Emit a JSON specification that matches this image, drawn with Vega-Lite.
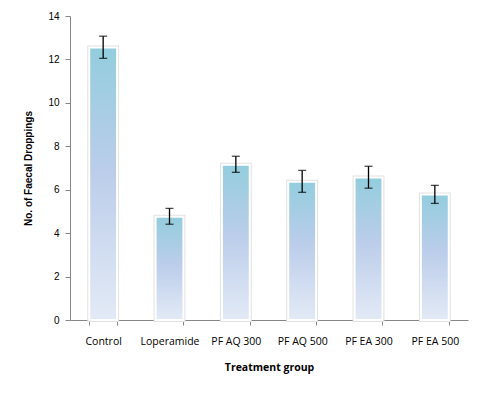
{
  "$schema": "https://vega.github.io/schema/vega-lite/v6.json",
  "width": 398,
  "height": 304,
  "autosize": {"type": "none"},
  "padding": {"left": 70, "top": 16, "right": 17, "bottom": 74},
  "background": "white",
  "config": {"view": {"stroke": null}},
  "data": {
    "values": [
      {"group": "Control", "mean": 12.55, "lo": 12.05, "hi": 13.07},
      {"group": "Loperamide", "mean": 4.75, "lo": 4.41, "hi": 5.14},
      {"group": "PF AQ 300", "mean": 7.15, "lo": 6.8, "hi": 7.54},
      {"group": "PF AQ 500", "mean": 6.37, "lo": 5.88, "hi": 6.89},
      {"group": "PF EA 300", "mean": 6.56, "lo": 6.07, "hi": 7.08},
      {"group": "PF EA 500", "mean": 5.78, "lo": 5.37, "hi": 6.2}
    ]
  },
  "encoding": {
    "x": {
      "field": "group",
      "type": "nominal",
      "sort": null,
      "scale": {"paddingInner": 0.58, "paddingOuter": 0.29},
      "axis": {
        "title": "Treatment group",
        "labelAngle": 0,
        "tickBand": "extent",
        "domainColor": "#868686",
        "tickColor": "#868686",
        "tickSize": 5,
        "labelPadding": 11,
        "labelFont": "Open Sans",
        "labelFontSize": 10.5,
        "labelColor": "#000000",
        "titleFont": "Open Sans",
        "titleFontSize": 10.5,
        "titleFontWeight": "bold",
        "titleColor": "#000000",
        "titlePadding": 16
      }
    }
  },
  "layer": [
    {
      "mark": {"type": "bar", "fill": "#ffffff", "stroke": "#e2e2e2", "strokeWidth": 4},
      "encoding": {
        "y": {
          "field": "mean",
          "type": "quantitative",
          "scale": {"domain": [0, 14]},
          "axis": {
            "title": "No. of Faecal Droppings",
            "values": [0, 2, 4, 6, 8, 10, 12, 14],
            "grid": false,
            "domainColor": "#868686",
            "tickColor": "#868686",
            "tickSize": 5,
            "labelPadding": 6,
            "labelFont": "Liberation Sans",
            "labelFontSize": 10,
            "labelColor": "#000000",
            "titleFont": "Liberation Sans",
            "titleFontSize": 10,
            "titleFontWeight": "bold",
            "titleColor": "#000000",
            "titlePadding": 14
          }
        }
      }
    },
    {
      "mark": {
        "type": "bar",
        "stroke": "#ffffff",
        "strokeWidth": 2,
        "fill": {
          "gradient": "linear",
          "x1": 0, "y1": 0, "x2": 0, "y2": 1,
          "stops": [
            {"offset": 0, "color": "#93CDDD"},
            {"offset": 0.45, "color": "#BBCDEA"},
            {"offset": 1, "color": "#E3EAF6"}
          ]
        }
      },
      "encoding": {"y": {"field": "mean", "type": "quantitative"}}
    },
    {
      "mark": {"type": "rule", "color": "#000000", "strokeWidth": 1.3},
      "encoding": {
        "y": {"field": "lo", "type": "quantitative"},
        "y2": {"field": "hi"}
      }
    },
    {
      "mark": {"type": "tick", "color": "#000000", "thickness": 1.3, "size": 8},
      "encoding": {"y": {"field": "lo", "type": "quantitative"}}
    },
    {
      "mark": {"type": "tick", "color": "#000000", "thickness": 1.3, "size": 8},
      "encoding": {"y": {"field": "hi", "type": "quantitative"}}
    }
  ]
}
